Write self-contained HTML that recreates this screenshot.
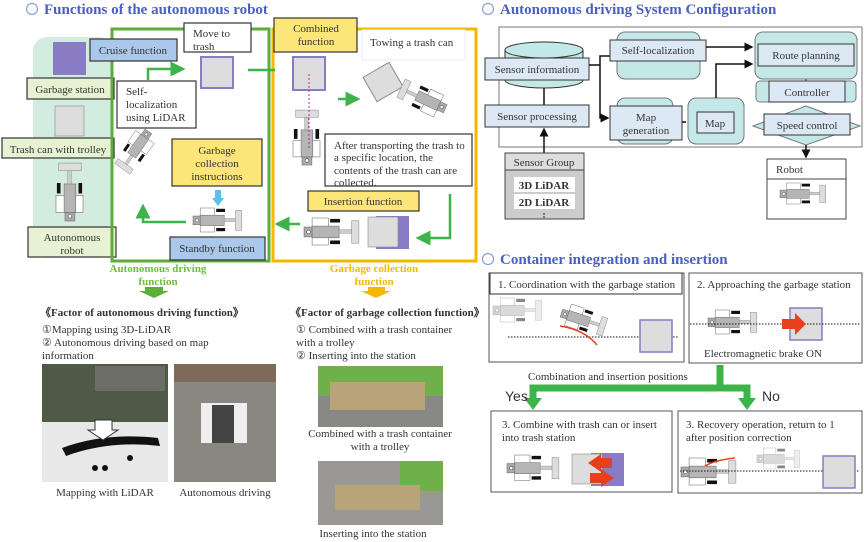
<!DOCTYPE html>
<html><head><meta charset="utf-8"><style>
html,body{margin:0;padding:0;background:#fff}
svg{display:block}
text{font-family:"Liberation Serif",serif;fill:#333}
.t{font-size:11px}
.h{font-family:"Liberation Serif",serif;font-weight:bold;font-size:15px;fill:#4a5fc1}
.b{stroke:#333;stroke-width:1.2}
</style></head><body>
<svg width="864" height="542" viewBox="0 0 864 542" xmlns="http://www.w3.org/2000/svg">
<defs>
<g id="rob">
<rect x="0" y="10" width="9" height="11" fill="#aaa" stroke="#666" stroke-width=".6"/>
<rect x="9" y="0" width="18" height="10" fill="#fff" stroke="#666" stroke-width=".6"/>
<rect x="9" y="20" width="18" height="10" fill="#fff" stroke="#666" stroke-width=".6"/>
<rect x="9" y="9" width="30" height="13" fill="#b5b5b5" stroke="#666" stroke-width=".6"/>
<rect x="29" y="1" width="11" height="4" fill="#111"/>
<rect x="29" y="25" width="11" height="4" fill="#111"/>
<rect x="39" y="13" width="14" height="4" fill="#ccc" stroke="#888" stroke-width=".5"/>
<rect x="53" y="3" width="8" height="25" fill="#ddd" stroke="#888" stroke-width=".6"/>
<circle cx="5" cy="15.5" r="2" fill="#fff" stroke="#444" stroke-width=".6"/>
</g>
<marker id="ag" markerWidth="6" markerHeight="6" refX="5" refY="3" orient="auto"><path d="M0,0L6,3L0,6z" fill="#3cb44a"/></marker>
<marker id="ak" markerWidth="6" markerHeight="6" refX="5" refY="3" orient="auto"><path d="M0,0L6,3L0,6z" fill="#111"/></marker>
</defs>

<!-- LEFT TOP -->
<circle cx="32" cy="9" r="5.5" fill="none" stroke="#8aa0dd" stroke-width="1.2"/>
<text x="44" y="14" class="h">Functions of the autonomous robot</text>
<rect x="33" y="37" width="80" height="221" rx="14" fill="#d2ece0"/>
<rect x="53" y="42" width="33" height="33" fill="#8a7cc4"/>
<rect x="55" y="106" width="29" height="30" fill="#ddd" stroke="#888" stroke-width=".6"/>
<use href="#rob" transform="translate(56,221) rotate(-90) scale(.95,.9)"/>
<rect x="27" y="78" width="87" height="21" fill="#e6f2d2" class="b"/>
<text x="70" y="93" class="t" text-anchor="middle">Garbage station</text>
<rect x="2" y="138" width="112" height="20" fill="#e6f2d2" class="b"/>
<text x="58" y="153" class="t" text-anchor="middle">Trash can with trolley</text>
<rect x="28" y="227" width="88" height="30" fill="#e6f2d2" class="b"/>
<text x="72" y="241" class="t" text-anchor="middle">Autonomous</text>
<text x="72" y="254" class="t" text-anchor="middle">robot</text>

<rect x="112" y="29" width="157" height="232" fill="none" stroke="#5cad3a" stroke-width="3"/>
<rect x="273" y="29" width="203" height="232" fill="none" stroke="#f5b800" stroke-width="3"/>

<rect x="90" y="39" width="87" height="22" fill="#a9c8ea" class="b"/>
<text x="133" y="54" class="t" text-anchor="middle">Cruise function</text>
<rect x="184" y="23" width="67" height="29" fill="#fff" class="b"/>
<text x="193" y="37" class="t">Move to</text><text x="193" y="50" class="t">trash</text>
<rect x="201" y="57" width="32" height="31" fill="#ddd" stroke="#8a7cc4" stroke-width="2"/>
<path d="M148,80V69H183" fill="none" stroke="#3cb44a" stroke-width="2.5" marker-end="url(#ag)"/>
<rect x="117" y="81" width="79" height="47" fill="#fff" class="b"/>
<text x="126" y="95" class="t">Self-</text><text x="126" y="108" class="t">localization</text><text x="126" y="121" class="t">using LiDAR</text>
<use href="#rob" transform="translate(158,138) rotate(125) scale(.75)"/>
<rect x="172" y="139" width="90" height="47" fill="#fce67a" class="b"/>
<text x="217" y="154" class="t" text-anchor="middle">Garbage</text>
<text x="217" y="167" class="t" text-anchor="middle">collection</text>
<text x="217" y="180" class="t" text-anchor="middle">instructions</text>
<path d="M218,190V200" stroke="#5bbfe8" stroke-width="6"/><path d="M212,198H224L218,206z" fill="#5bbfe8"/>
<use href="#rob" transform="translate(193,208) scale(.8)"/>
<path d="M186,222H143V206" fill="none" stroke="#3cb44a" stroke-width="2.5" marker-end="url(#ag)"/>
<rect x="170" y="237" width="95" height="23" fill="#a9c8ea" class="b"/>
<text x="217" y="252" class="t" text-anchor="middle">Standby function</text>
<path d="M248,70H275" stroke="#3cb44a" stroke-width="2.5"/>

<rect x="274" y="18" width="83" height="34" fill="#fce67a" class="b"/>
<text x="316" y="32" class="t" text-anchor="middle">Combined</text>
<text x="316" y="45" class="t" text-anchor="middle">function</text>
<rect x="362" y="30" width="103" height="30" fill="#fff" stroke="#eee"/>
<text x="370" y="46" class="t">Towing a trash can</text>
<rect x="293" y="57" width="32" height="33" fill="#ddd" stroke="#8a7cc4" stroke-width="2"/>
<use href="#rob" transform="translate(293,165) rotate(-90) scale(.9,.9)"/>
<path d="M309,148V72" stroke="#c020c0" stroke-width="1" stroke-dasharray="2,2"/>
<path d="M338,99H358" stroke="#3cb44a" stroke-width="2.5" marker-end="url(#ag)"/>
<rect x="368" y="68" width="30" height="28" fill="#ddd" stroke="#888" transform="rotate(-30 383 82)"/>
<use href="#rob" transform="translate(440,120) rotate(205) scale(.8)"/>
<rect x="325" y="134" width="147" height="52" fill="#fff" class="b"/>
<text x="334" y="149" class="t">After transporting the trash to</text>
<text x="334" y="161" class="t">a specific location, the</text>
<text x="334" y="174" class="t">contents of the trash can are</text>
<text x="334" y="186" class="t">collected.</text>
<rect x="308" y="191" width="111" height="20" fill="#fce67a" class="b"/>
<text x="363" y="205" class="t" text-anchor="middle">Insertion function</text>
<path d="M450,194V238H418" fill="none" stroke="#3cb44a" stroke-width="2.5" marker-end="url(#ag)"/>
<rect x="376" y="216" width="33" height="33" fill="#8a7cc4"/>
<rect x="368" y="217" width="30" height="30" fill="#ddd" stroke="#888" stroke-width=".6"/>
<use href="#rob" transform="translate(304,218) scale(.9)"/>
<path d="M300,224H277" stroke="#3cb44a" stroke-width="2.5" marker-end="url(#ag)"/>

<text x="158" y="272" text-anchor="middle" style="font-weight:bold;font-size:11px;fill:#6cbf3c">Autonomous driving</text>
<text x="158" y="285" text-anchor="middle" style="font-weight:bold;font-size:11px;fill:#6cbf3c">function</text>
<text x="374" y="272" text-anchor="middle" style="font-weight:bold;font-size:11px;fill:#f5b800">Garbage collection</text>
<text x="374" y="285" text-anchor="middle" style="font-weight:bold;font-size:11px;fill:#f5b800">function</text>
<path d="M145,287H163V291H169L154,298L139,291H145z" fill="#5cad3a"/>
<path d="M368,287H385V291H391L376,298L361,291H368z" fill="#f5b800"/>

<text x="40" y="316" style="font-weight:bold;font-size:11px">《Factor of autonomous driving function》</text>
<text x="42" y="333" class="t">①Mapping using 3D-LiDAR</text>
<text x="42" y="346" class="t">② Autonomous driving based on map</text>
<text x="42" y="359" class="t">information</text>
<rect x="42" y="364" width="126" height="58" fill="#4d5a48"/>
<rect x="95" y="366" width="70" height="25" fill="#6d6d68"/>
<rect x="42" y="422" width="126" height="60" fill="#e8e8e8"/>
<path d="M62,448Q105,432 158,438L160,446Q110,440 66,456z" fill="#111"/>
<circle cx="95" cy="468" r="3" fill="#111"/><circle cx="105" cy="468" r="3" fill="#111"/><circle cx="130" cy="458" r="3" fill="#111"/>
<path d="M95,420H112V430H118L103,440L88,430H95z" fill="#fff" stroke="#333"/>
<text x="105" y="496" class="t" text-anchor="middle">Mapping with LiDAR</text>
<rect x="174" y="364" width="102" height="118" fill="#8a8680"/>
<rect x="174" y="364" width="102" height="18" fill="#7d6a58"/>
<rect x="201" y="403" width="46" height="40" fill="#eee"/>
<rect x="212" y="405" width="22" height="38" fill="#444"/>
<text x="225" y="496" class="t" text-anchor="middle">Autonomous driving</text>

<text x="290" y="316" style="font-weight:bold;font-size:11px">《Factor of garbage collection function》</text>
<text x="296" y="333" class="t">① Combined with a trash container</text>
<text x="296" y="346" class="t">with a trolley</text>
<text x="296" y="359" class="t">② Inserting into the station</text>
<rect x="318" y="366" width="125" height="30" fill="#6fb04a"/>
<rect x="318" y="396" width="125" height="31" fill="#8a8884"/>
<rect x="330" y="382" width="95" height="28" fill="#b9a47a"/>
<text x="380" y="437" class="t" text-anchor="middle">Combined with a trash container</text>
<text x="380" y="450" class="t" text-anchor="middle">with a trolley</text>
<rect x="318" y="461" width="125" height="64" fill="#9a9894"/>
<rect x="400" y="461" width="43" height="30" fill="#6fb04a"/>
<rect x="335" y="485" width="85" height="25" fill="#b9a47a"/>
<text x="373" y="537" class="t" text-anchor="middle">Inserting into the station</text>

<!-- RIGHT TOP -->
<circle cx="488" cy="9" r="5.5" fill="none" stroke="#8aa0dd" stroke-width="1.2"/>
<text x="500" y="14" class="h">Autonomous driving System Configuration</text>
<rect x="499" y="27" width="363" height="120" fill="#fff" stroke="#777"/>
<path d="M505,50V80H583V50" fill="#c4e8e8" stroke="#333"/>
<ellipse cx="544" cy="80" rx="39" ry="8" fill="#c4e8e8" stroke="#333"/>
<ellipse cx="544" cy="50" rx="39" ry="8" fill="#c4e8e8" stroke="#333"/>
<rect x="485" y="58" width="104" height="22" fill="#dde8f5" stroke="#333"/>
<text x="537" y="73" class="t" text-anchor="middle">Sensor information</text>
<path d="M544,88V105" stroke="#111" stroke-width="1.5"/>
<rect x="485" y="105" width="104" height="22" fill="#dde8f5" stroke="#333"/>
<text x="537" y="120" class="t" text-anchor="middle">Sensor processing</text>
<path d="M544,153V129" stroke="#111" stroke-width="1.5" marker-end="url(#ak)"/>
<path d="M589,65H600V56H610M600,65V118H608" fill="none" stroke="#111" stroke-width="1.5" marker-end="url(#ak)"/>
<rect x="617" y="32" width="83" height="47" rx="8" fill="#c4e8e8" stroke="#777"/>
<rect x="610" y="40" width="96" height="21" fill="#dde8f5" stroke="#333"/>
<text x="658" y="54" class="t" text-anchor="middle">Self-localization</text>
<path d="M706,47H752" stroke="#111" stroke-width="1.5" marker-end="url(#ak)"/>
<rect x="617" y="98" width="56" height="46" rx="8" fill="#c4e8e8" stroke="#777"/>
<rect x="610" y="106" width="72" height="34" fill="#dde8f5" stroke="#333"/>
<text x="646" y="121" class="t" text-anchor="middle">Map</text>
<text x="646" y="134" class="t" text-anchor="middle">generation</text>
<path d="M682,122H686" stroke="#111" stroke-width="1.5"/>
<rect x="688" y="98" width="56" height="46" rx="8" fill="#c4e8e8" stroke="#777"/>
<rect x="697" y="112" width="37" height="21" fill="#dde8f5" stroke="#333"/>
<text x="715" y="127" class="t" text-anchor="middle">Map</text>
<path d="M716,98V64H752" fill="none" stroke="#111" stroke-width="1.5" marker-end="url(#ak)"/>
<rect x="755" y="32" width="102" height="47" rx="8" fill="#c4e8e8" stroke="#777"/>
<rect x="758" y="44" width="96" height="22" fill="#dde8f5" stroke="#333"/>
<text x="806" y="59" class="t" text-anchor="middle">Route planning</text>
<path d="M806,79V82" stroke="#333"/>
<rect x="756" y="81" width="100" height="21" rx="4" fill="#c4e8e8" stroke="#777"/>
<rect x="769" y="81" width="76" height="21" fill="#dde8f5" stroke="#333"/>
<text x="807" y="96" class="t" text-anchor="middle">Controller</text>
<path d="M806,106L860,126L806,145L753,126z" fill="#c4e8e8" stroke="#777"/>
<rect x="764" y="114" width="86" height="21" fill="#dde8f5" stroke="#333"/>
<text x="807" y="129" class="t" text-anchor="middle">Speed control</text>
<path d="M806,145V157" stroke="#111" stroke-width="1.5" marker-end="url(#ak)"/>
<rect x="505" y="153" width="79" height="66" fill="#ccc" stroke="#444"/>
<rect x="505" y="153" width="79" height="17" fill="#ddd" stroke="#444"/>
<text x="544" y="166" class="t" text-anchor="middle">Sensor Group</text>
<rect x="514" y="177" width="61" height="15" fill="#fff"/>
<rect x="514" y="194" width="61" height="15" fill="#fff"/>
<text x="544" y="189" text-anchor="middle" style="font-weight:bold;font-size:11px">3D LiDAR</text>
<text x="544" y="206" text-anchor="middle" style="font-weight:bold;font-size:11px">2D LiDAR</text>
<text x="544" y="218" text-anchor="middle" style="font-weight:bold;font-size:10px">:</text>
<rect x="767" y="159" width="79" height="60" fill="#fff" stroke="#444"/>
<rect x="767" y="159" width="79" height="20" fill="#fff" stroke="#444"/>
<text x="776" y="173" class="t">Robot</text>
<use href="#rob" transform="translate(780,183) scale(.75,.7)"/>

<!-- RIGHT BOTTOM -->
<circle cx="488" cy="259" r="5.5" fill="none" stroke="#8aa0dd" stroke-width="1.2"/>
<text x="500" y="264" class="h">Container integration and insertion</text>
<rect x="489" y="273" width="195" height="89" fill="#fff" stroke="#555"/>
<rect x="490" y="273" width="192" height="21" fill="#fff" stroke="#333"/>
<text x="498" y="288" class="t">1. Coordination with the garbage station</text>
<g opacity=".5"><use href="#rob" transform="translate(493,298) scale(.8)"/></g>
<use href="#rob" transform="translate(565,302) rotate(18) scale(.75)"/>
<path d="M508,337H678" stroke="#111" stroke-dasharray="1.5,1.5"/>
<path d="M560,326Q585,330 597,345" fill="none" stroke="#e8401c" stroke-width="1.5"/>
<rect x="640" y="320" width="32" height="32" fill="#ddd" stroke="#8a7cc4" stroke-width="1.5"/>
<rect x="689" y="273" width="173" height="90" fill="#fff" stroke="#555"/>
<text x="697" y="288" class="t">2. Approaching the garbage station</text>
<rect x="790" y="308" width="32" height="32" fill="#ddd" stroke="#8a7cc4" stroke-width="1.5"/>
<use href="#rob" transform="translate(708,310) scale(.8)"/>
<path d="M690,324H860" stroke="#111" stroke-dasharray="1.5,1.5"/>
<path d="M782,319H795V313L806,324L795,335V329H782z" fill="#e8401c"/>
<text x="704" y="357" class="t">Electromagnetic brake ON</text>
<text x="528" y="380" class="t">Combination and insertion positions</text>
<path d="M720,365V388H533V400M720,388H747V400" fill="none" stroke="#3cb44a" stroke-width="7"/>
<path d="M524,398H542L533,410z" fill="#3cb44a"/>
<path d="M738,398H756L747,410z" fill="#3cb44a"/>
<text x="505" y="401" style="font-family:'Liberation Sans',sans-serif;font-size:14px;fill:#333">Yes</text>
<text x="762" y="401" style="font-family:'Liberation Sans',sans-serif;font-size:14px;fill:#333">No</text>
<rect x="491" y="411" width="181" height="81" fill="#fff" stroke="#555"/>
<text x="502" y="428" class="t">3. Combine with trash can or insert</text>
<text x="502" y="441" class="t">into trash station</text>
<rect x="591" y="453" width="33" height="33" fill="#8a7cc4"/>
<rect x="572" y="454" width="30" height="30" fill="#ddd" stroke="#888" stroke-width=".6"/>
<use href="#rob" transform="translate(507,455) scale(.85)"/>
<path d="M612,458H601V454L588,463L601,472V468H612z" fill="#e8401c"/>
<path d="M590,473H601V469L614,478L601,487V483H590z" fill="#e8401c"/>
<rect x="678" y="411" width="184" height="82" fill="#fff" stroke="#555"/>
<text x="686" y="428" class="t">3. Recovery operation, return to 1</text>
<text x="686" y="441" class="t">after position correction</text>
<g opacity=".5"><use href="#rob" transform="translate(757,448) scale(.7)"/></g>
<use href="#rob" transform="translate(681,458) scale(.9)"/>
<path d="M680,471H860" stroke="#111" stroke-dasharray="1.5,1.5"/>
<path d="M735,458Q715,460 705,466" fill="none" stroke="#e8401c" stroke-width="1.5"/>
<rect x="823" y="456" width="32" height="32" fill="#ddd" stroke="#8a7cc4" stroke-width="1.5"/>
</svg>
</body></html>
